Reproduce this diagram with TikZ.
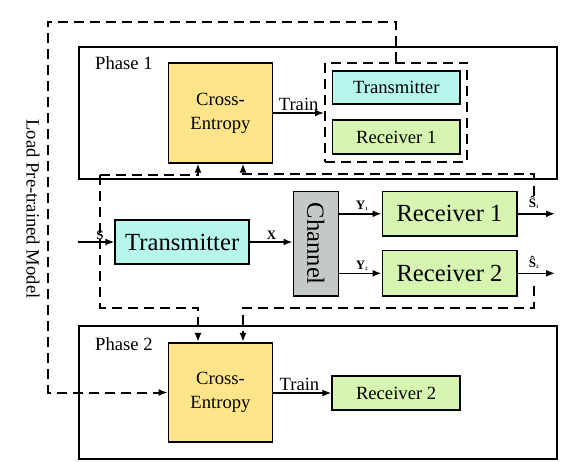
\documentclass[tikz,border=0pt]{standalone}
\usepackage{fontspec}
\setmainfont{Liberation Serif}
\usetikzlibrary{arrows.meta}
\definecolor{ceyellow}{RGB}{255,229,138}
\definecolor{txcyan}{RGB}{182,246,236}
\definecolor{rxgreen}{RGB}{215,245,176}
\definecolor{chgray}{RGB}{194,201,200}
\newcommand{\smallfnt}{\fontsize{18.7}{24}\selectfont}
\newcommand{\bigfnt}{\fontsize{24.7}{28}\selectfont}
\newcommand{\lblfnt}{\fontsize{13}{14}\selectfont\bfseries}
\begin{document}
\begin{tikzpicture}[x=1bp, y=-1bp, >={Latex[length=9bp,width=7bp]},
    blk/.style={draw, line width=1.6bp, inner sep=0pt, align=center},
    phase/.style={draw, line width=2bp, inner sep=0pt},
    dash line/.style={line width=2bp, dash pattern=on 10bp off 6bp},
    flow/.style={line width=1.6bp, ->}]
    \useasboundingbox (0,0) rectangle (581,462);
    % phase 1
    \node[phase, minimum width=478bp, minimum height=132bp] (phaseA) at (318,112.8) {};
    \node[anchor=base west, inner sep=0pt, font=\smallfnt] (phaseAlbl) at (95,70) {Phase 1};
    \node[blk, fill=ceyellow, minimum width=104bp, minimum height=99.5bp, font=\smallfnt] (ceA) at (220.5,113) {Cross-\\Entropy};
    \node[draw, dash line, minimum width=142bp, minimum height=99.5bp] (grpA) at (396,112.3) {};
    \node[blk, fill=txcyan, minimum width=127.4bp, minimum height=33.5bp, font=\smallfnt] (txA) at (396.3,87.5) {Transmitter};
    \node[blk, fill=rxgreen, minimum width=127.4bp, minimum height=33.5bp, font=\smallfnt] (rxA) at (396.3,137) {Receiver 1};
    \draw[flow] (ceA.east) -- node[above, inner sep=1.5bp, font=\smallfnt] {Train} (ceA.east -| grpA.west);
    % middle chain
    \coordinate (src) at (78,242);
    \node[blk, fill=txcyan, minimum width=134bp, minimum height=44bp, font=\bigfnt] (tx) at (182.2,242) {Transmitter};
    \node[blk, fill=chgray, minimum width=45bp, minimum height=104.3bp] (ch) at (315.8,243.8) {};
    \node[rotate=-90, font=\bigfnt] (chlbl) at (ch.center) {Channel};
    \node[blk, fill=rxgreen, minimum width=134.4bp, minimum height=44.3bp, font=\bigfnt] (rx1) at (449.5,213.8) {Receiver 1};
    \node[blk, fill=rxgreen, minimum width=134.4bp, minimum height=45.3bp, font=\bigfnt] (rx2) at (449.5,273.3) {Receiver 2};
    \coordinate (out1) at (555,213.8);
    \coordinate (out2) at (555,273.3);
    \draw[flow] (src) -- (tx.west);
    \draw[flow] (tx.east) -- (tx.east -| ch.west);
    \draw[flow] (rx1.west -| ch.east) -- (rx1.west);
    \draw[flow] (rx2.west -| ch.east) -- (rx2.west);
    \draw[flow] (rx1.east) -- (out1);
    \draw[flow] (rx2.east) -- (out2);
    \draw (100,241) node[anchor=south, inner sep=1bp, font=\lblfnt]{S};
    \draw (271.5,241) node[anchor=south, inner sep=1bp, font=\lblfnt]{X};
    \draw (362,212) node[anchor=south, inner sep=1bp, font=\lblfnt]{Y\textsubscript{\fontsize{5}{5}\selectfont 1}};
    \draw (362,272) node[anchor=south, inner sep=1bp, font=\lblfnt]{Y\textsubscript{\fontsize{5}{5}\selectfont 2}};
    \draw (534,210) node[anchor=south, inner sep=1bp, font=\lblfnt]{Ŝ\textsubscript{\fontsize{5}{5}\selectfont 1}};
    \draw (534,270) node[anchor=south, inner sep=1bp, font=\lblfnt]{Ŝ\textsubscript{\fontsize{5}{5}\selectfont 2}};
    % phase 2
    \node[phase, minimum width=478bp, minimum height=133.4bp] (phaseB) at (318,392.7) {};
    \node[anchor=base west, inner sep=0pt, font=\smallfnt] (phaseBlbl) at (95,350) {Phase 2};
    \node[blk, fill=ceyellow, minimum width=104bp, minimum height=99.5bp, font=\smallfnt] (ceB) at (220.5,392.5) {Cross-\\Entropy};
    \node[blk, fill=rxgreen, minimum width=127.8bp, minimum height=33.6bp, font=\smallfnt] (rxB) at (396.1,393) {Receiver 2};
    \draw[flow] (ceB.east |- rxB.west) -- node[above, pos=0.45, inner sep=1.5bp, font=\smallfnt] {Train} (rxB.west);
    % loss inputs
    \coordinate (fbL1) at (198,175);
    \coordinate (fbL2) at (100,175);
    \coordinate (fbL3) at (100,307.5);
    \coordinate (fbL4) at (198,307.5);
    \coordinate (fbR1) at (243,174);
    \coordinate (fbR2) at (534,174);
    \coordinate (fbR3) at (534,196);
    \coordinate (fbR4) at (534,286);
    \coordinate (fbR5) at (534,307.5);
    \coordinate (fbR6) at (243,307.5);
    \draw[dash line,->] (fbL2) -- (fbL1) -- (fbL1 |- ceA.south);
    \draw[dash line,->] (fbL2) -- (fbL3) -- (fbL4) -- (fbL4 |- ceB.north);
    \draw[dash line,->] (fbR3) -- (fbR2) -- (fbR1) -- (fbR1 |- ceA.south);
    \draw[dash line,->] (fbR4) -- (fbR5) -- (fbR6) -- (fbR6 |- ceB.north);
    % pre-trained model
    \coordinate (ldA) at (394.8,21.6);
    \coordinate (ldB) at (47.7,21.6);
    \draw[dash line,->] (grpA.north) -- (grpA.north |- ldA) -- (ldB) -- (ldB |- ceB.west) -- (ceB.west);
    \node[rotate=-90, font=\smallfnt] (ldlbl) at (33,209) {Load Pre-trained Model};
\end{tikzpicture}
\end{document}
